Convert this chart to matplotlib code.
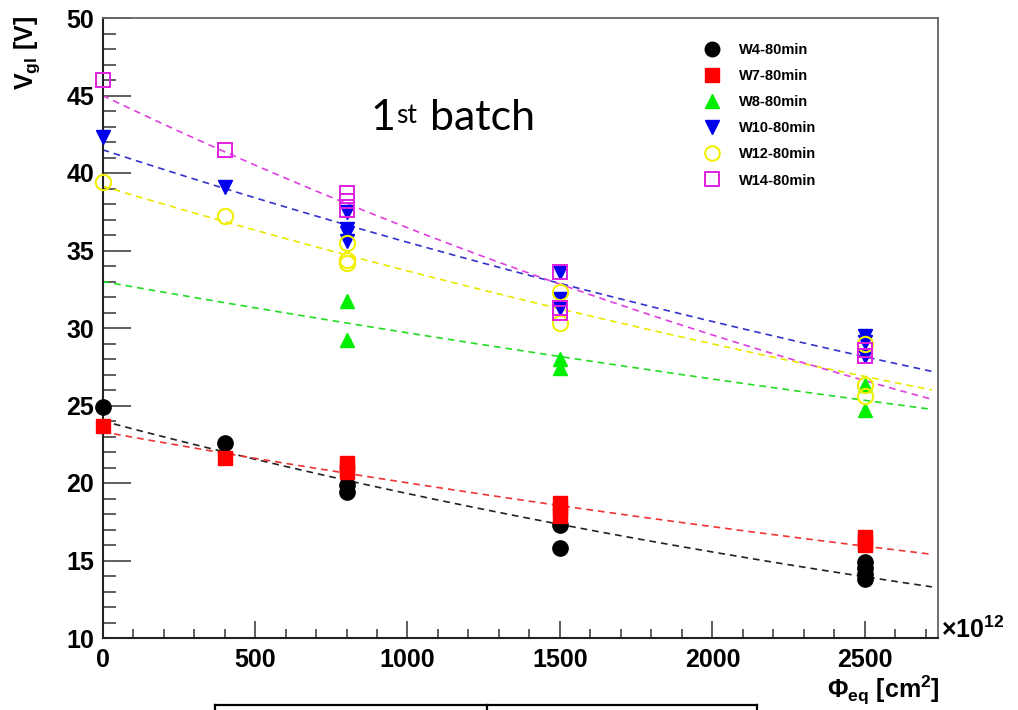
import matplotlib
matplotlib.use("Agg")
import matplotlib.pyplot as plt
import numpy as np
from matplotlib.ticker import MultipleLocator
from matplotlib.lines import Line2D

plt.rcParams['font.family'] = ['Liberation Sans', 'DejaVu Sans']
plt.rcParams['mathtext.fontset'] = 'custom'
plt.rcParams['mathtext.rm'] = 'Liberation Sans:bold'
plt.rcParams['mathtext.it'] = 'Liberation Sans:bold'
plt.rcParams['mathtext.bf'] = 'Liberation Sans:bold'

# Messpunkte (Fluenz in 1e12 cm^-2, Vgl in V)
labels = ['W4-80min', 'W7-80min', 'W8-80min', 'W10-80min', 'W12-80min', 'W14-80min']

w4_x = [0, 400, 800, 800, 1500, 1500, 2500, 2500, 2500, 2500]
w4_y = [24.9, 22.6, 19.9, 19.4, 17.3, 15.8, 14.9, 14.5, 14.1, 13.8]

w7_x = [0, 400, 800, 800, 800, 1500, 1500, 1500, 2500, 2500, 2500]
w7_y = [23.7, 21.6, 21.3, 21.0, 20.7, 18.7, 18.3, 17.9, 16.5, 16.2, 16.0]

w8_x = [800, 800, 1500, 1500, 2500, 2500]
w8_y = [31.75, 29.2, 28.0, 27.4, 26.3, 24.7]

w10_x = [0, 400, 800, 800, 800, 800, 1500, 1500, 1500, 2500, 2500, 2500]
w10_y = [42.3, 39.1, 37.5, 36.4, 36.1, 35.6, 33.6, 31.9, 31.3, 29.5, 29.1, 28.2]

w12_x = [0, 400, 800, 800, 800, 1500, 1500, 2500, 2500, 2500]
w12_y = [39.4, 37.2, 35.5, 34.4, 34.2, 32.3, 30.3, 29.0, 26.3, 25.6]

w14_x = [0, 400, 800, 800, 800, 1500, 1500, 1500, 2500, 2500]
w14_y = [46.0, 41.5, 38.7, 38.2, 37.6, 33.6, 31.3, 31.0, 28.6, 28.2]

# Exponential-Fits: Wert bei 0 und bei 2720
fit_x_end = 2720
fit_v0 = [24.0, 23.3, 33.0, 41.5, 39.15, 45.0]
fit_vend = [13.3, 15.4, 24.75, 27.2, 26.0, 25.4]

xs = [w4_x, w7_x, w8_x, w10_x, w12_x, w14_x]
ys = [w4_y, w7_y, w8_y, w10_y, w12_y, w14_y]

styles = [
    dict(marker='o', ms=11, mfc='black', mec='black'),
    dict(marker='s', ms=10, mfc='#ff0000', mec='#ff0000'),
    dict(marker='^', ms=10, mfc='#00ee00', mec='#00ee00'),
    dict(marker='v', ms=10.5, mfc='#0000ee', mec='#0000ee'),
    dict(marker='o', ms=11, mfc='none', mec='#f0f000', mew=1.5),
    dict(marker='s', ms=10.5, mfc='none', mec='#e020e0', mew=1.4),
]
line_colors = ['#222222', '#ee3333', '#22dd22', '#3333cc', '#e8e800', '#e040e0']

fig = plt.figure(figsize=(10.18, 7.10), dpi=100)
W, H = 1018, 710
ax = fig.add_axes([102.6 / W, 1 - 638 / H, (938 - 102.6) / W, (638 - 18) / H])

xf = np.linspace(0, fit_x_end, 200)
for v0, v1, c in zip(fit_v0, fit_vend, line_colors):
    yf = v0 * (v1 / v0) ** (xf / fit_x_end)
    ax.plot(xf, yf, color=c, lw=1.2, ls=(0, (4, 3)), zorder=2)

handles = []
for x, y, st, lab in zip(xs, ys, styles, labels):
    h, = ax.plot(x, y, ls='none', zorder=3, label=lab, clip_on=False, **st)
    handles.append(h)

ax.set_xlim(0, 2740)
ax.set_ylim(10, 50)
ax.xaxis.set_major_locator(MultipleLocator(500))
ax.xaxis.set_minor_locator(MultipleLocator(100))
ax.yaxis.set_major_locator(MultipleLocator(5))
ax.yaxis.set_minor_locator(MultipleLocator(1))

ax.tick_params(axis='both', which='both', direction='in', color='#333333', width=1.1,
               top=False, right=False)
ax.tick_params(axis='y', which='major', length=20, pad=6)
ax.tick_params(axis='y', which='minor', length=9.5)
ax.tick_params(axis='x', which='major', length=12, pad=7)
ax.tick_params(axis='x', which='minor', length=6.5)
for lab in ax.get_xticklabels() + ax.get_yticklabels():
    lab.set_fontsize(18)
    lab.set_fontweight('bold')

for s in ['left', 'bottom']:
    ax.spines[s].set_color('#222222')
    ax.spines[s].set_linewidth(1.5)
for s in ['top', 'right']:
    ax.spines[s].set_color('#666666')
    ax.spines[s].set_linewidth(1.3)

leg = ax.legend(handles=handles, loc='upper left',
                bbox_to_anchor=(704.7 / W, 1 - 43 / H), bbox_transform=fig.transFigure,
                frameon=False, numpoints=1, markerscale=0.95, handlelength=1.0,
                handletextpad=1.35, labelspacing=0.83, borderpad=0, borderaxespad=0,
                prop={'family': 'Liberation Sans', 'weight': 'bold', 'size': 10.5})

# Achsentitel
fig.text(27 / W, 1 - 16 / H, r'$\mathrm{V_{gl}}$ [V]', rotation=90, ha='center', va='top',
         fontsize=18, fontweight='bold')
fig.text(940 / W, 1 - 690 / H, r'$\mathrm{\Phi_{eq}}$ [cm$^{\mathrm{2}}$]', ha='right',
         va='center', fontsize=18, fontweight='bold')
fig.text(941 / W, 1 - 630 / H, r'$\times$10$^{\mathrm{12}}$', ha='left', va='center',
         fontsize=18, fontweight='bold')

# "1st batch"
t1 = fig.text(370 / W, 1 - 130 / H, '1', fontsize=31, family='Lato', va='baseline')
t2 = ax.annotate('st', xy=(1, 1), xycoords=t1, xytext=(1, -3), textcoords='offset points',
                 fontsize=19, family='Lato', va='top', ha='left')
ax.annotate('batch', xy=(1, 0), xycoords=(t2, t1), xytext=(9, 0), textcoords='offset points',
            fontsize=31, family='Lato', va='bottom', ha='left')

# Tabellenrahmen unten
for xy in [([215, 757], [705, 705]), ([215, 215], [705, 712]),
           ([487, 487], [705, 712]), ([757, 757], [705, 712])]:
    fig.add_artist(Line2D([v / W for v in xy[0]], [1 - v / H for v in xy[1]],
                          color='black', lw=1.6))

fig.savefig('out.png', dpi=100)
